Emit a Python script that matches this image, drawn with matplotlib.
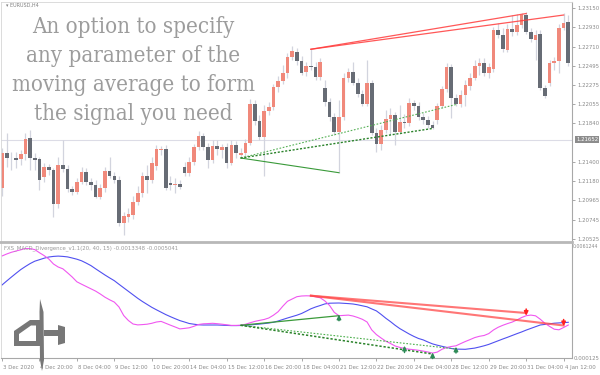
import matplotlib
matplotlib.use("Agg")
import matplotlib.pyplot as plt
import matplotlib.transforms as mtransforms
from matplotlib.patches import Polygon
from matplotlib.lines import Line2D
from matplotlib import font_manager
import numpy as np

# ---------------- data ----------------
opens = [1.21101, 1.21506, 1.21449, 1.21449, 1.21431, 1.21491, 1.21669, 1.21449, 1.21434, 1.21233,
         1.21340, 1.21309, 1.20923, 1.21366, 1.21317, 1.21090, 1.21063, 1.21176, 1.21283, 1.21176,
         1.21139, 1.21006, 1.21101, 1.21301, 1.21244, 1.21196, 1.20710, 1.20778, 1.20798, 1.20949,
         1.21051, 1.21241, 1.21196, 1.21355, 1.21536, 1.21551, 1.21158, 1.21142, 1.21150, 1.21347,
         1.21278, 1.21403, 1.21567, 1.21696, 1.21574, 1.21423, 1.21582, 1.21536, 1.21574, 1.21392,
         1.21593, 1.21480, 1.21499, 1.21613, 1.22059, 1.21869, 1.21681, 1.21983, 1.22022, 1.22249,
         1.22320, 1.22408, 1.22597, 1.22654, 1.22551, 1.22426, 1.22491, 1.22483, 1.22363, 1.22238,
         1.22079, 1.21908, 1.21744, 1.21908, 1.22358, 1.22426, 1.22301, 1.22173, 1.22059, 1.22294,
         1.21733, 1.21605, 1.21764, 1.21885, 1.21934, 1.21744, 1.21858, 1.21847, 1.22074, 1.22036,
         1.21908, 1.21877, 1.21821, 1.21877, 1.22036, 1.22226, 1.22483, 1.22124, 1.22059, 1.22161,
         1.22264, 1.22351, 1.22491, 1.22529, 1.22408, 1.22454, 1.22900, 1.22843, 1.22673, 1.22908,
         1.22881, 1.22957, 1.23071, 1.22881, 1.22786, 1.22855, 1.22238, 1.22294, 1.22522, 1.22548,
         1.22926, 1.22988]
highs = [1.21559, 1.21730, 1.21517, 1.21514, 1.21536, 1.21733, 1.21764, 1.21502, 1.21457, 1.21389,
         1.21377, 1.21332, 1.21457, 1.21650, 1.21366, 1.21127, 1.21218, 1.21347, 1.21332, 1.21218,
         1.21196, 1.21150, 1.21343, 1.21460, 1.21286, 1.21241, 1.20832, 1.20877, 1.21014, 1.21127,
         1.21286, 1.21366, 1.21457, 1.21593, 1.21582, 1.21593, 1.21241, 1.21218, 1.21196, 1.21400,
         1.21457, 1.21605, 1.21756, 1.21730, 1.21616, 1.21650, 1.21650, 1.21605, 1.21616, 1.21650,
         1.21639, 1.21559, 1.21661, 1.22116, 1.22105, 1.21934, 1.22048, 1.22082, 1.22286, 1.22377,
         1.22502, 1.22639, 1.22718, 1.22696, 1.22605, 1.22536, 1.22681, 1.22536, 1.22582, 1.22332,
         1.22127, 1.21957, 1.22105, 1.22411, 1.22468, 1.22536, 1.22355, 1.22218, 1.22559, 1.22332,
         1.21786, 1.21821, 1.21991, 1.22014, 1.21968, 1.22048, 1.21946, 1.22127, 1.22105, 1.22082,
         1.21957, 1.21923, 1.21866, 1.22071, 1.22264, 1.22525, 1.22514, 1.22173, 1.22218, 1.22332,
         1.22411, 1.22559, 1.22582, 1.22582, 1.22525, 1.22934, 1.22980, 1.22923, 1.22968, 1.23071,
         1.23082, 1.23093, 1.23099, 1.22923, 1.22900, 1.22900, 1.22275, 1.22559, 1.22593, 1.22968,
         1.23090, 1.23071]
lows = [1.21014, 1.21343, 1.21309, 1.21332, 1.21366, 1.21423, 1.21309, 1.21309, 1.21082, 1.21173,
        1.21252, 1.20778, 1.20877, 1.21286, 1.21059, 1.21025, 1.21036, 1.21150, 1.21139, 1.21082,
        1.20991, 1.20980, 1.21059, 1.21218, 1.21161, 1.20673, 1.20571, 1.20718, 1.20752, 1.20911,
        1.21002, 1.21048, 1.21161, 1.21309, 1.21480, 1.21082, 1.21082, 1.21048, 1.21093, 1.21241,
        1.21241, 1.21366, 1.21536, 1.21536, 1.21332, 1.21389, 1.21480, 1.21446, 1.21332, 1.21366,
        1.21446, 1.21446, 1.21468, 1.21593, 1.21821, 1.21650, 1.21241, 1.21934, 1.21991, 1.22196,
        1.22286, 1.22355, 1.22559, 1.22502, 1.22389, 1.22377, 1.22446, 1.22332, 1.22332, 1.22036,
        1.21866, 1.21707, 1.21278, 1.21877, 1.22309, 1.22275, 1.22139, 1.22036, 1.22036, 1.21707,
        1.21514, 1.21536, 1.21730, 1.21707, 1.21593, 1.21718, 1.21786, 1.21809, 1.21991, 1.21877,
        1.21832, 1.21786, 1.21775, 1.21832, 1.22014, 1.22196, 1.21900, 1.22036, 1.22025, 1.22036,
        1.22218, 1.22332, 1.22389, 1.22377, 1.22355, 1.22423, 1.22809, 1.22650, 1.22650, 1.22832,
        1.22843, 1.22923, 1.22855, 1.22764, 1.22559, 1.22218, 1.22127, 1.22264, 1.22446, 1.22411,
        1.22900, 1.22491]
closes = [1.21506, 1.21449, 1.21440, 1.21423, 1.21491, 1.21658, 1.21442, 1.21423, 1.21196, 1.21340,
          1.21309, 1.20923, 1.21366, 1.21317, 1.21090, 1.21063, 1.21176, 1.21290, 1.21176, 1.21139,
          1.21006, 1.21101, 1.21301, 1.21244, 1.21196, 1.20703, 1.20786, 1.20809, 1.20949, 1.21051,
          1.21241, 1.21196, 1.21392, 1.21544, 1.21551, 1.21101, 1.21139, 1.21150, 1.21119, 1.21278,
          1.21403, 1.21567, 1.21696, 1.21567, 1.21423, 1.21582, 1.21551, 1.21567, 1.21385, 1.21593,
          1.21499, 1.21499, 1.21613, 1.22059, 1.21869, 1.21681, 1.21983, 1.22022, 1.22249, 1.22320,
          1.22408, 1.22597, 1.22661, 1.22551, 1.22415, 1.22491, 1.22480, 1.22363, 1.22540, 1.22079,
          1.21908, 1.21744, 1.21908, 1.22358, 1.22426, 1.22301, 1.22173, 1.22059, 1.22294, 1.21733,
          1.21605, 1.21764, 1.21885, 1.21934, 1.21744, 1.21858, 1.21847, 1.22074, 1.22036, 1.21908,
          1.21877, 1.21821, 1.21790, 1.22036, 1.22226, 1.22483, 1.22124, 1.22059, 1.22161, 1.22275,
          1.22358, 1.22491, 1.22529, 1.22408, 1.22476, 1.22900, 1.22843, 1.22681, 1.22908, 1.22881,
          1.22957, 1.23071, 1.22881, 1.22794, 1.22843, 1.22238, 1.22150, 1.22522, 1.22548, 1.22926,
          1.22983, 1.22522]

macd_main = [0.00525, 0.00545, 0.00562, 0.00575, 0.00587, 0.00600, 0.00599, 0.00589, 0.00558, 0.00529,
             0.00495, 0.00445, 0.00415, 0.00397, 0.00357, 0.00315, 0.00267, 0.00243, 0.00220, 0.00197,
             0.00174, 0.00145, 0.00113, 0.00087, 0.00064, 0.00015, -0.00070, -0.00120, -0.00155, -0.00164,
             -0.00161, -0.00157, -0.00148, -0.00135, -0.00129, -0.00148, -0.00167, -0.00185, -0.00204, -0.00199,
             -0.00193, -0.00178, -0.00160, -0.00153, -0.00151, -0.00148, -0.00152, -0.00157, -0.00163, -0.00169,
             -0.00169, -0.00167, -0.00158, -0.00143, -0.00129, -0.00119, -0.00110, -0.00095, -0.00067, -0.00032,
             0.00023, 0.00072, 0.00095, 0.00118, 0.00125, 0.00127, 0.00126, 0.00117, 0.00107, 0.00075,
             0.00030, -0.00039, -0.00072, -0.00069, -0.00066, -0.00075, -0.00090, -0.00108, -0.00135, -0.00214,
             -0.00261, -0.00295, -0.00327, -0.00350, -0.00375, -0.00389, -0.00400, -0.00407, -0.00412, -0.00418,
             -0.00426, -0.00435, -0.00446, -0.00436, -0.00408, -0.00390, -0.00380, -0.00373, -0.00351, -0.00330,
             -0.00311, -0.00291, -0.00278, -0.00270, -0.00251, -0.00215, -0.00188, -0.00168, -0.00151, -0.00136,
             -0.00115, -0.00091, -0.00072, -0.00066, -0.00073, -0.00107, -0.00148, -0.00179, -0.00207, -0.00213,
             -0.00190, -0.00165]
macd_signal = [0.00235, 0.00275, 0.00314, 0.00352, 0.00389, 0.00420, 0.00449, 0.00473, 0.00488, 0.00503,
               0.00515, 0.00521, 0.00524, 0.00521, 0.00516, 0.00505, 0.00493, 0.00477, 0.00454, 0.00429,
               0.00397, 0.00366, 0.00335, 0.00306, 0.00278, 0.00242, 0.00207, 0.00172, 0.00137, 0.00102,
               0.00070, 0.00041, 0.00012, -0.00013, -0.00037, -0.00061, -0.00082, -0.00102, -0.00121, -0.00135,
               -0.00150, -0.00157, -0.00163, -0.00165, -0.00165, -0.00165, -0.00165, -0.00167, -0.00169, -0.00171,
               -0.00171, -0.00170, -0.00168, -0.00164, -0.00160, -0.00156, -0.00151, -0.00145, -0.00138, -0.00125,
               -0.00110, -0.00095, -0.00081, -0.00067, -0.00050, -0.00027, -0.00003, 0.00015, 0.00030, 0.00046,
               0.00053, 0.00054, 0.00055, 0.00052, 0.00049, 0.00045, 0.00037, 0.00027, 0.00017, -0.00004,
               -0.00024, -0.00059, -0.00097, -0.00131, -0.00168, -0.00201, -0.00228, -0.00255, -0.00279, -0.00300,
               -0.00314, -0.00335, -0.00354, -0.00367, -0.00378, -0.00389, -0.00400, -0.00406, -0.00407, -0.00408,
               -0.00402, -0.00396, -0.00385, -0.00373, -0.00359, -0.00341, -0.00323, -0.00305, -0.00288, -0.00270,
               -0.00252, -0.00235, -0.00216, -0.00199, -0.00182, -0.00165, -0.00159, -0.00153, -0.00147, -0.00144,
               -0.00141, -0.00138]

price_ticks = [1.23150, 1.22930, 1.22710, 1.22495, 1.22275, 1.22055, 1.21840,
               1.21400, 1.21180, 1.20965, 1.20745, 1.20525]
current_price = 1.21652
tick_bars = [0, 8, 16, 24, 32, 40, 48, 56, 64, 72, 80, 88, 96, 104, 112, 120]
tick_labels = ["3 Dec 2020", "4 Dec 20:00", "8 Dec 04:00", "9 Dec 12:00", "10 Dec 20:00",
               "14 Dec 04:00", "15 Dec 12:00", "16 Dec 20:00", "18 Dec 04:00", "21 Dec 12:00",
               "22 Dec 20:00", "24 Dec 04:00", "28 Dec 12:00", "29 Dec 20:00", "31 Dec 04:00",
               "4 Jan 12:00"]

# divergence lines (bar index pairs, value pairs)
main_red_bars = [[66, 112], [66, 120]]
main_red_prices = [[1.22681, 1.23087], [1.22681, 1.23070]]
main_green_solid_bars = [51, 72]
main_green_solid_prices = [1.21445, 1.21278]
main_green_dot_bars = [[51, 97], [51, 92]]
main_green_dot_prices = [[1.21445, 1.22053], [1.21445, 1.21781]]

ind_red_bars = [[66, 112], [66, 120]]
ind_red_vals = [[0.00128, -0.00045], [0.00128, -0.00170]]
ind_green_solid_bars = [51, 72]
ind_green_solid_vals = [-0.00168, -0.00072]
ind_green_dot_bars = [[51, 97], [51, 92]]
ind_green_dot_vals = [[-0.00168, -0.00405], [-0.00168, -0.00455]]

up_arrow_bars = [72, 86, 92, 97]
up_arrow_heads = [-0.00062, -0.00372, -0.00440, -0.00382]
up_arrow_tails = [-0.00122, -0.00440, -0.00500, -0.00445]
down_arrow_bars = [112, 120]
down_arrow_tails = [-0.00005, -0.00110]
down_arrow_heads = [-0.00072, -0.00177]

indicator_label = "FXS_MACD_Divergence_v1.1(20, 40, 15) -0.0013348 -0.0005041"
headline = ["An option to specify", "any parameter of the",
            "moving average to form", "the signal you need"]

# ---------------- fonts ----------------
installed = {f.name for f in font_manager.fontManager.ttflist}
small_family = ["Liberation Sans Narrow", "DejaVu Sans"] if "Liberation Sans Narrow" in installed \
    else ["DejaVu Sans"]
narrow = small_family[0] == "Liberation Sans Narrow"
SMALL = 5.0 if narrow else 3.9

# ---------------- figure ----------------
W, H = 600, 375
fig = plt.figure(figsize=(6, 3.75), dpi=100)
fig.patch.set_facecolor("white")

def fx(px):
    return px / W

def fy(py):
    return 1 - py / H

ax = fig.add_axes([fx(1), fy(241), fx(572) - fx(1), fy(2) - fy(241)])
ax2 = fig.add_axes([fx(1), fy(358), fx(572) - fx(1), fy(243) - fy(358)])

bars = np.arange(len(opens))
o = np.array(opens); h = np.array(highs); l = np.array(lows); c = np.array(closes)
bull = c >= o
bull_col = "#f0897b"
bear_col = "#676c75"
colors = np.where(bull, bull_col, bear_col)

ax.axhline(current_price, color="#dcdce6", lw=0.8, zorder=0)
ax.vlines(bars, l, h, color="#d2d4de", lw=0.9, zorder=1)
ax.bar(bars, np.maximum(np.abs(c - o), 0.00003), bottom=np.minimum(o, c), width=0.78,
       color=colors, linewidth=0, zorder=2)

for bx, py in zip(main_red_bars, main_red_prices):
    ax.plot(bx, py, color="#ff3b3b", lw=0.9, alpha=0.85, zorder=3)
ax.plot(main_green_solid_bars, main_green_solid_prices, color="#3a9a3a", lw=0.8, zorder=3)
ax.plot(main_green_dot_bars[0], main_green_dot_prices[0], color="#55b055", lw=0.8,
        linestyle=(0, (1.5, 1.5)), zorder=3)
ax.plot(main_green_dot_bars[1], main_green_dot_prices[1], color="#2a822a", lw=1.0,
        linestyle=(0, (1.5, 1.2)), zorder=3)

ax.set_xlim(-0.214, 121.79)
ax.set_ylim(1.20502, 1.23218)
ax.set_xticks([])
ax.yaxis.tick_right()
ax.set_yticks(price_ticks)
ax.set_yticklabels([f"{t:.5f}" for t in price_ticks])
ax.tick_params(axis="y", labelsize=SMALL, labelcolor="#8a8a8a", color="#9a9a9a",
               length=2.5, width=0.6, pad=1.2)
for lab in ax.get_yticklabels():
    lab.set_family(small_family)
for s in ["top", "left"]:
    ax.spines[s].set_color("#d6d6d6")
    ax.spines[s].set_linewidth(0.6)
ax.spines["right"].set_color("#a8a8a8")
ax.spines["right"].set_linewidth(0.8)
ax.spines["bottom"].set_visible(False)

trans = mtransforms.blended_transform_factory(ax.transAxes, ax.transData)
ax.text(1.007, current_price, f"{current_price:.5f}", transform=trans, fontsize=SMALL,
        family=small_family, color="white", va="center", ha="left",
        bbox=dict(facecolor="#8c8c8c", edgecolor="none", pad=0.6))

# headline text
base_y = [33, 62, 91, 120]
for line, by in zip(headline, base_y):
    fig.text(fx(133), fy(by), line, ha="center", va="baseline", fontsize=16,
             color="#9c9c9c", family="DejaVu Serif", fontstretch="condensed")

fig.text(fx(6), fy(5.5), "\u25be EURUSD,H4", fontsize=SMALL - 0.4, family=small_family,
         color="#808080", va="center", ha="left")

# separator between panels
fig.add_artist(Line2D([fx(0), fx(572)], [fy(242), fy(242)], color="#b8b8b8", lw=2.0))

# ---------------- indicator ----------------
ax2.plot(bars, macd_signal, color="#5050f0", lw=0.8, zorder=2)
ax2.plot(bars, macd_main, color="#f057f0", lw=0.8, zorder=2)
for bx, vy in zip(ind_red_bars, ind_red_vals):
    ax2.plot(bx, vy, color="#ff4848", lw=1.5, alpha=0.75, zorder=3)
ax2.plot(ind_green_solid_bars, ind_green_solid_vals, color="#3a9a3a", lw=0.9, zorder=3)
ax2.plot(ind_green_dot_bars[0], ind_green_dot_vals[0], color="#4caf4c", lw=0.8,
         linestyle=(0, (1.5, 1.5)), zorder=3)
ax2.plot(ind_green_dot_bars[1], ind_green_dot_vals[1], color="#2a822a", lw=1.1,
         linestyle=(0, (1.5, 1.2)), zorder=3)
for bx, hd, tl in zip(up_arrow_bars, up_arrow_heads, up_arrow_tails):
    ax2.annotate("", xy=(bx, hd), xytext=(bx, tl),
                 arrowprops=dict(arrowstyle="-|>", color="#2e8b57", lw=1.1, mutation_scale=6,
                                 shrinkA=0, shrinkB=0), zorder=4)
for bx, hd, tl in zip(down_arrow_bars, down_arrow_heads, down_arrow_tails):
    ax2.annotate("", xy=(bx, hd), xytext=(bx, tl),
                 arrowprops=dict(arrowstyle="-|>", color="#ff2020", lw=1.1, mutation_scale=6,
                                 shrinkA=0, shrinkB=0), zorder=4)

ax2.set_xlim(-0.214, 121.79)
ax2.set_ylim(-0.00495, 0.00655)
ax2.set_yticks([])
ax2.set_xticks(tick_bars)
ax2.set_xticklabels(tick_labels, ha="left")
ax2.tick_params(axis="x", labelsize=SMALL, labelcolor="#8a8a8a", color="#9a9a9a",
                length=2.5, width=0.6, pad=2.5)
for lab in ax2.get_xticklabels():
    lab.set_family(small_family)
    lab.set_transform(lab.get_transform() + mtransforms.ScaledTranslation(1 / 100, 0, fig.dpi_scale_trans))
ax2.spines["top"].set_visible(False)
ax2.spines["left"].set_color("#d6d6d6")
ax2.spines["left"].set_linewidth(0.6)
for s in ["right", "bottom"]:
    ax2.spines[s].set_color("#a8a8a8")
    ax2.spines[s].set_linewidth(0.8)

fig.text(fx(4), fy(248), indicator_label, fontsize=SMALL, family=small_family,
         color="#999999", va="center", ha="left")
fig.text(fx(598), fy(247), "0.0061244", fontsize=SMALL - 0.5, family=small_family,
         color="#8a8a8a", va="center", ha="right")
fig.text(fx(574), fy(359), "0.000125", fontsize=SMALL, family=small_family,
         color="#8a8a8a", va="center", ha="left")

# logo (decorative)
logo_col = "#777777"
logo_shapes = [
    [(14, 346), (14, 331), (30, 320), (41, 320), (41, 346)],
    [(40, 299), (43.5, 312), (44, 360), (42, 371), (40, 360), (39.5, 312)],
    [(44, 330), (58, 330), (58, 325), (65, 327), (65, 343), (58, 345), (58, 336), (44, 336)],
]
inner = [(19, 341), (19, 334), (31, 325.5), (36, 325.5), (36, 341)]
for shp in logo_shapes:
    fig.add_artist(Polygon([(fx(x), fy(y)) for x, y in shp], closed=True,
                           transform=fig.transFigure, facecolor=logo_col, edgecolor="none"))
fig.add_artist(Polygon([(fx(x), fy(y)) for x, y in inner], closed=True,
                       transform=fig.transFigure, facecolor="white", edgecolor="none"))

fig.savefig("out.png", dpi=100, facecolor="white")
